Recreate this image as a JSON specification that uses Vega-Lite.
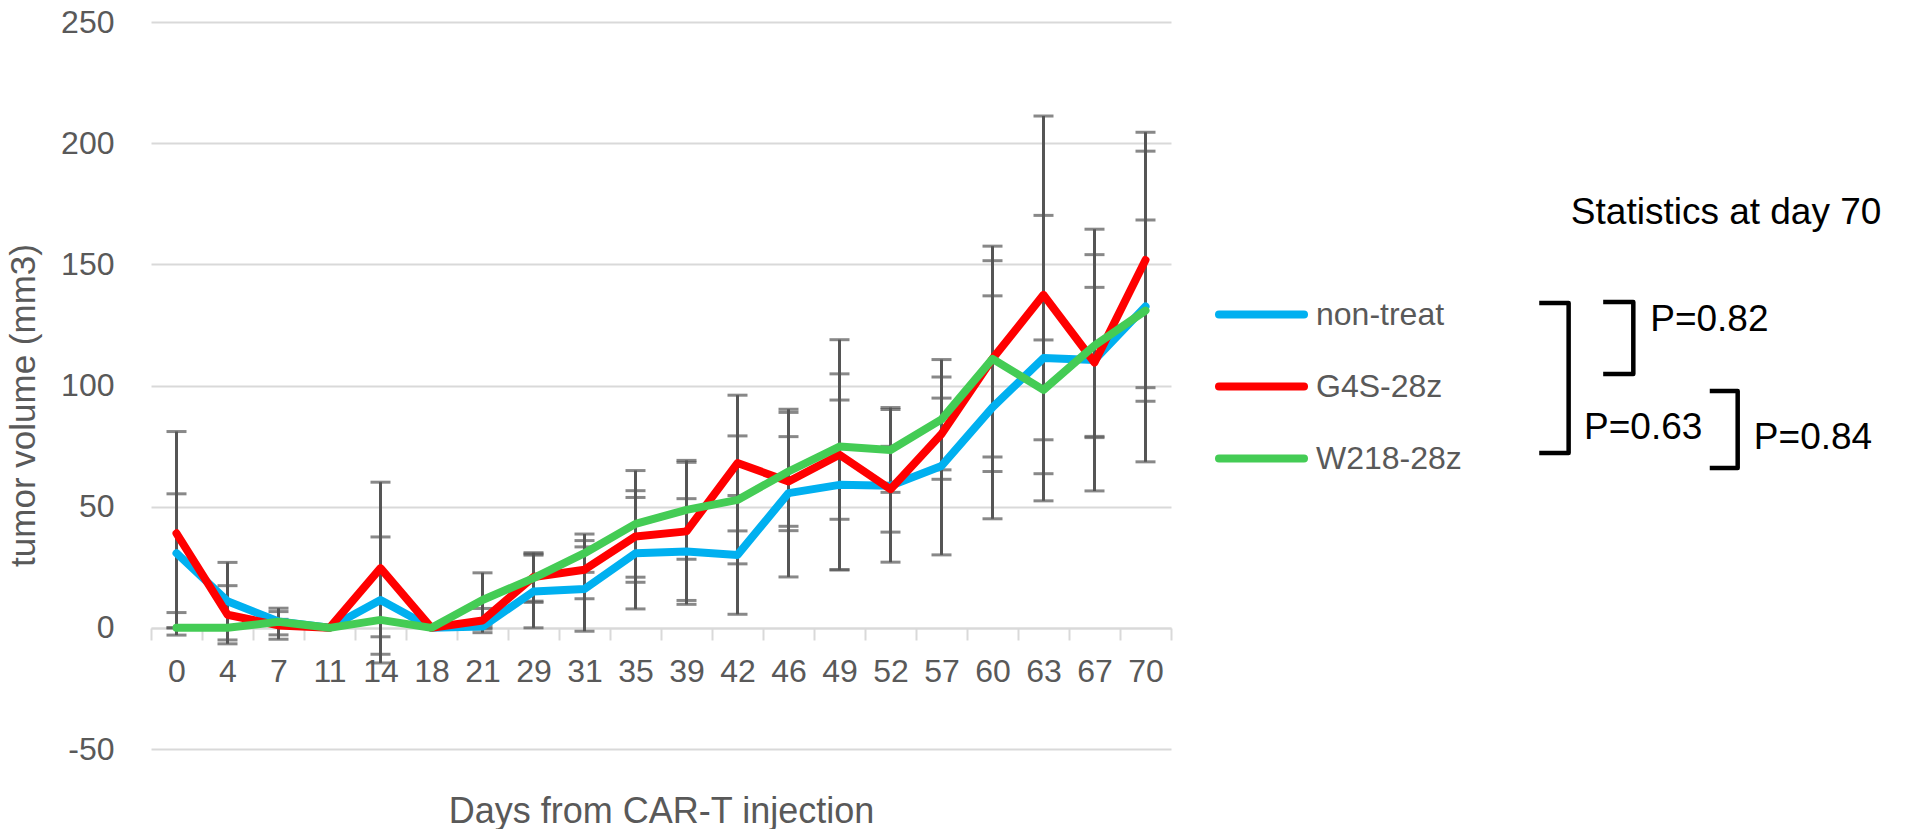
{
  "$schema": "https://vega.github.io/schema/vega-lite/v6.json",
  "autosize": {"type": "pad"},
  "padding": {"left": 6, "top": 6, "right": 0, "bottom": 0},
  "background": "white",
  "spacing": 0,
  "bounds": "flush",
  "config": {"view": {"stroke": null}, "font": "Liberation Sans"},
  "datasets": {
    "tumor": [
      {"day": 0, "group": "non-treat", "mean": 30.8, "lo": 6.3, "hi": 55.3},
      {"day": 4, "group": "non-treat", "mean": 11, "lo": -5, "hi": 27},
      {"day": 7, "group": "non-treat", "mean": 2.6, "lo": -2.9, "hi": 8.1},
      {"day": 11, "group": "non-treat", "mean": 0, "lo": 0, "hi": 0},
      {"day": 14, "group": "non-treat", "mean": 11.5, "lo": -14.5, "hi": 37.5},
      {"day": 18, "group": "non-treat", "mean": 0, "lo": 0, "hi": 0},
      {"day": 21, "group": "non-treat", "mean": 0.5, "lo": -0.5, "hi": 1.5},
      {"day": 29, "group": "non-treat", "mean": 15, "lo": 0, "hi": 30},
      {"day": 31, "group": "non-treat", "mean": 16, "lo": -1.4, "hi": 33.4},
      {"day": 35, "group": "non-treat", "mean": 30.8, "lo": 7.8, "hi": 53.8},
      {"day": 39, "group": "non-treat", "mean": 31.5, "lo": 9.7, "hi": 53.3},
      {"day": 42, "group": "non-treat", "mean": 30.1, "lo": 5.6, "hi": 54.6},
      {"day": 46, "group": "non-treat", "mean": 55.6, "lo": 21, "hi": 90.2},
      {"day": 49, "group": "non-treat", "mean": 59, "lo": 24, "hi": 94},
      {"day": 52, "group": "non-treat", "mean": 58.6, "lo": 27.1, "hi": 90.1},
      {"day": 57, "group": "non-treat", "mean": 66.8, "lo": 30.1, "hi": 103.5},
      {"day": 60, "group": "non-treat", "mean": 91, "lo": 45, "hi": 137},
      {"day": 63, "group": "non-treat", "mean": 111.3, "lo": 52.4, "hi": 170.2},
      {"day": 67, "group": "non-treat", "mean": 110.5, "lo": 56.5, "hi": 164.5},
      {"day": 70, "group": "non-treat", "mean": 132.6, "lo": 68.5, "hi": 196.7},
      {"day": 0, "group": "G4S-28z", "mean": 39, "lo": -3, "hi": 81},
      {"day": 4, "group": "G4S-28z", "mean": 5.4, "lo": -6.6, "hi": 17.4},
      {"day": 7, "group": "G4S-28z", "mean": 1, "lo": -4.7, "hi": 6.7},
      {"day": 11, "group": "G4S-28z", "mean": 0, "lo": 0, "hi": 0},
      {"day": 14, "group": "G4S-28z", "mean": 24.6, "lo": -10.9, "hi": 60.1},
      {"day": 18, "group": "G4S-28z", "mean": 0, "lo": 0, "hi": 0},
      {"day": 21, "group": "G4S-28z", "mean": 3, "lo": -2, "hi": 8},
      {"day": 29, "group": "G4S-28z", "mean": 21, "lo": 11, "hi": 31},
      {"day": 31, "group": "G4S-28z", "mean": 24, "lo": 12, "hi": 36},
      {"day": 35, "group": "G4S-28z", "mean": 37.7, "lo": 18.8, "hi": 56.6},
      {"day": 39, "group": "G4S-28z", "mean": 39.8, "lo": 11.3, "hi": 68.3},
      {"day": 42, "group": "G4S-28z", "mean": 68, "lo": 40, "hi": 96},
      {"day": 46, "group": "G4S-28z", "mean": 60.4, "lo": 41.9, "hi": 78.9},
      {"day": 49, "group": "G4S-28z", "mean": 71.4, "lo": 23.9, "hi": 118.9},
      {"day": 52, "group": "G4S-28z", "mean": 57.2, "lo": 39.5, "hi": 74.9},
      {"day": 57, "group": "G4S-28z", "mean": 80, "lo": 65.2, "hi": 94.8},
      {"day": 60, "group": "G4S-28z", "mean": 111, "lo": 64.5, "hi": 157.5},
      {"day": 63, "group": "G4S-28z", "mean": 137.4, "lo": 63.6, "hi": 211.2},
      {"day": 67, "group": "G4S-28z", "mean": 109.5, "lo": 78.5, "hi": 140.5},
      {"day": 70, "group": "G4S-28z", "mean": 151.8, "lo": 99.1, "hi": 204.5},
      {"day": 0, "group": "W218-28z", "mean": 0, "lo": 0, "hi": 0},
      {"day": 4, "group": "W218-28z", "mean": 0, "lo": 0, "hi": 0},
      {"day": 7, "group": "W218-28z", "mean": 2.5, "lo": 1.5, "hi": 3.5},
      {"day": 11, "group": "W218-28z", "mean": 0, "lo": 0, "hi": 0},
      {"day": 14, "group": "W218-28z", "mean": 3.3, "lo": -3.7, "hi": 10.3},
      {"day": 18, "group": "W218-28z", "mean": 0, "lo": 0, "hi": 0},
      {"day": 21, "group": "W218-28z", "mean": 11.5, "lo": 0.3, "hi": 22.7},
      {"day": 29, "group": "W218-28z", "mean": 20.5, "lo": 10.5, "hi": 30.5},
      {"day": 31, "group": "W218-28z", "mean": 30.8, "lo": 22.9, "hi": 38.7},
      {"day": 35, "group": "W218-28z", "mean": 42.9, "lo": 20.9, "hi": 64.9},
      {"day": 39, "group": "W218-28z", "mean": 48.7, "lo": 28.3, "hi": 69.1},
      {"day": 42, "group": "W218-28z", "mean": 52.8, "lo": 26.4, "hi": 79.2},
      {"day": 46, "group": "W218-28z", "mean": 64.5, "lo": 40.1, "hi": 88.9},
      {"day": 49, "group": "W218-28z", "mean": 74.8, "lo": 44.8, "hi": 104.8},
      {"day": 52, "group": "W218-28z", "mean": 73.4, "lo": 55.9, "hi": 90.9},
      {"day": 57, "group": "W218-28z", "mean": 86, "lo": 61.3, "hi": 110.7},
      {"day": 60, "group": "W218-28z", "mean": 111, "lo": 70.5, "hi": 151.5},
      {"day": 63, "group": "W218-28z", "mean": 98.2, "lo": 77.6, "hi": 118.8},
      {"day": 67, "group": "W218-28z", "mean": 116.5, "lo": 79, "hi": 154},
      {"day": 70, "group": "W218-28z", "mean": 130.9, "lo": 93.5, "hi": 168.3}
    ],
    "brackets": [
      {"id": "a", "k": 1, "x": 50.1, "y": 134.0},
      {"id": "a", "k": 2, "x": 54.1, "y": 134.0},
      {"id": "a", "k": 3, "x": 54.1, "y": 72.1},
      {"id": "a", "k": 4, "x": 50.1, "y": 72.1},
      {"id": "b", "k": 1, "x": 58.8, "y": 134.5},
      {"id": "b", "k": 2, "x": 62.9, "y": 134.5},
      {"id": "b", "k": 3, "x": 62.9, "y": 104.7},
      {"id": "b", "k": 4, "x": 58.8, "y": 104.7},
      {"id": "c", "k": 1, "x": 73.3, "y": 97.7},
      {"id": "c", "k": 2, "x": 77.1, "y": 97.7},
      {"id": "c", "k": 3, "x": 77.1, "y": 66.0},
      {"id": "c", "k": 4, "x": 73.3, "y": 66.0}
    ],
    "notes": [
      {"label": "Statistics at day 70", "x": 54.4, "y": 171.0},
      {"label": "P=0.82", "x": 65.2, "y": 127.0},
      {"label": "P=0.63", "x": 56.2, "y": 82.5},
      {"label": "P=0.84", "x": 79.3, "y": 78.3}
    ]
  },
  "hconcat": [
    {
      "width": 1020,
      "height": 727,
      "data": {"name": "tumor"},
      "encoding": {
        "x": {
          "field": "day",
          "type": "ordinal",
          "scale": {"type": "band", "paddingInner": 0, "paddingOuter": 0},
          "axis": {
            "orient": "bottom",
            "offset": -121,
            "labelAngle": 0,
            "labelFontSize": 32,
            "labelColor": "#595959",
            "labelPadding": 16,
            "domainColor": "#d9d9d9",
            "domainWidth": 2,
            "tickColor": "#d9d9d9",
            "tickWidth": 2,
            "tickSize": 12,
            "tickBand": "extent",
            "grid": false,
            "title": "Days from CAR-T injection",
            "titleFontSize": 36,
            "titleFontWeight": "normal",
            "titleColor": "#595959",
            "titleY": 183,
            "titleBaseline": "middle"
          }
        }
      },
      "layer": [
        {
          "mark": {
            "type": "errorbar",
            "ticks": {"size": 20, "thickness": 3, "color": "#555555"},
            "rule": {"strokeWidth": 3, "color": "#555555"}
          },
          "encoding": {
            "y": {
              "field": "lo",
              "type": "quantitative",
              "scale": {"domain": [-50, 250], "nice": false},
              "title": "tumor volume (mm3)"
            },
            "y2": {"field": "hi"}
          }
        },
        {
          "mark": {"type": "line", "strokeWidth": 8, "strokeCap": "round", "strokeJoin": "round"},
          "encoding": {
            "y": {
              "field": "mean",
              "type": "quantitative",
              "scale": {"domain": [-50, 250], "nice": false},
              "title": "tumor volume (mm3)",
              "axis": {
                "values": [-50, 0, 50, 100, 150, 200, 250],
                "labelExpr": "'' + datum.value",
                "grid": true,
                "gridColor": "#d9d9d9",
                "gridWidth": 2,
                "domain": false,
                "ticks": false,
                "labelFontSize": 32,
                "labelColor": "#595959",
                "labelPadding": 37,
                "titleFontSize": 35,
                "titleFontWeight": "normal",
                "titleColor": "#595959",
                "titleX": -128,
                "titleY": 383,
                "titleBaseline": "middle",
                "titleAlign": "center"
              }
            },
            "color": {
              "field": "group",
              "type": "nominal",
              "sort": ["non-treat", "G4S-28z", "W218-28z"],
              "scale": {
                "domain": ["non-treat", "G4S-28z", "W218-28z"],
                "range": ["#00B0F0", "#FF0000", "#44CC55"]
              },
              "legend": {
                "orient": "none",
                "legendX": 1064,
                "legendY": 246,
                "title": null,
                "padding": 0,
                "symbolType": "stroke",
                "symbolSize": 7225,
                "symbolStrokeWidth": 8,
                "labelFontSize": 32,
                "labelColor": "#595959",
                "labelOffset": 8,
                "rowPadding": 9,
                "encode": {"symbols": {"update": {"strokeCap": {"value": "round"}}}}
              }
            }
          }
        }
      ]
    },
    {
      "width": 735,
      "height": 727,
      "layer": [
        {
          "data": {"name": "brackets"},
          "mark": {"type": "line", "color": "black", "strokeWidth": 4.5, "strokeJoin": "round"},
          "encoding": {
            "x": {"field": "x", "type": "quantitative", "scale": {"domain": [0, 100]}, "axis": null},
            "y": {"field": "y", "type": "quantitative", "scale": {"domain": [-50, 250], "nice": false}, "axis": null},
            "detail": {"field": "id"},
            "order": {"field": "k"}
          }
        },
        {
          "data": {"name": "notes"},
          "mark": {"type": "text", "align": "left", "baseline": "middle", "fontSize": 37, "color": "black"},
          "encoding": {
            "x": {"field": "x", "type": "quantitative", "scale": {"domain": [0, 100]}, "axis": null},
            "y": {"field": "y", "type": "quantitative", "scale": {"domain": [-50, 250], "nice": false}, "axis": null},
            "text": {"field": "label"}
          }
        }
      ]
    }
  ]
}
